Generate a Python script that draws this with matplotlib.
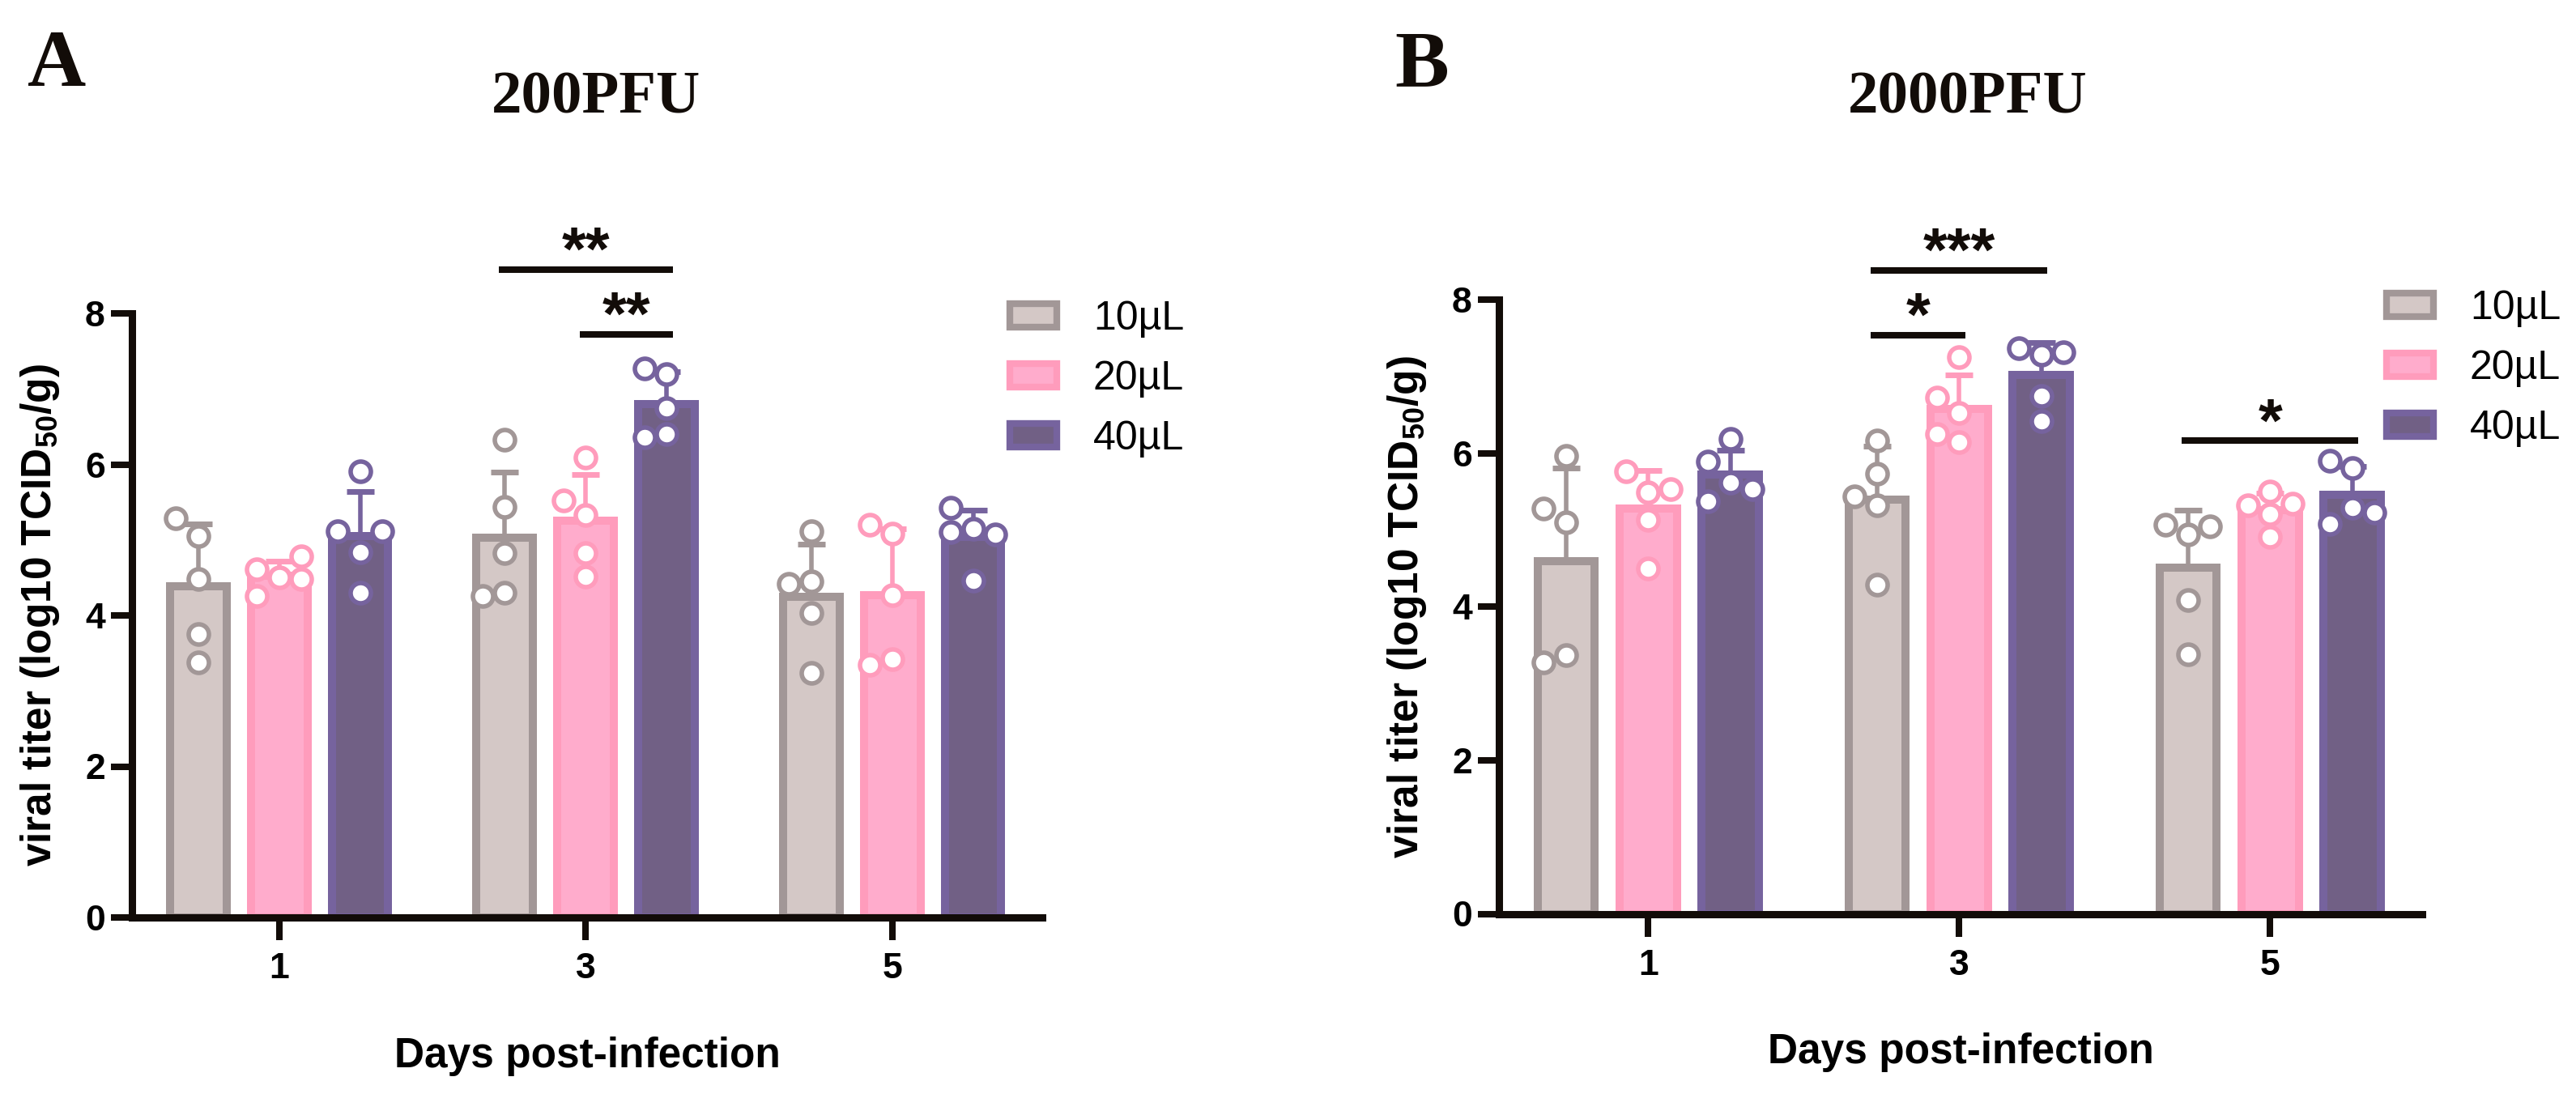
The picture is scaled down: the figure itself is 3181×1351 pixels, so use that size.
import numpy as np
import matplotlib
matplotlib.use('Agg')
import matplotlib.pyplot as plt
from matplotlib.patches import Patch

plt.rcParams['font.family'] = ['Liberation Sans', 'DejaVu Sans']
plt.rcParams['mathtext.fontset'] = 'custom'
plt.rcParams['mathtext.rm'] = 'Liberation Sans:bold'
plt.rcParams['mathtext.default'] = 'rm'

# ---------------- data ----------------
days = ['1', '3', '5']
volumes = ['10µL', '20µL', '40µL']
panel_titles = ['200PFU', '2000PFU']
panel_letters = ['A', 'B']

# Panel A (200 PFU) - individual titers (log10 TCID50/g), one list per day
a_10 = [[5.05, 5.29, 4.48, 3.75, 3.38], [6.33, 5.44, 4.83, 4.30, 4.26], [5.12, 4.03, 3.24, 4.45, 4.42]]
a_20 = [[4.50, 4.61, 4.78, 4.48, 4.26], [6.09, 4.83, 4.51, 5.33, 5.52], [5.08, 5.20, 4.27, 3.42, 3.35]]
a_40 = [[5.91, 4.84, 4.30, 5.11, 5.11], [7.20, 7.27, 6.74, 6.40, 6.36], [5.15, 5.10, 5.07, 4.46, 5.43]]

# Panel B (2000 PFU)
b_10 = [[5.96, 5.10, 5.28, 3.37, 3.27], [6.17, 5.73, 5.32, 4.29, 5.44], [4.94, 5.07, 5.05, 4.09, 3.38]]
b_20 = [[5.49, 5.13, 4.50, 5.76, 5.53], [7.25, 6.52, 6.72, 6.25, 6.14], [5.50, 5.21, 4.91, 5.32, 5.34]]
b_40 = [[6.19, 5.62, 5.37, 5.53, 5.89], [7.28, 7.37, 7.31, 6.74, 6.42], [5.81, 5.90, 5.29, 5.08, 5.23]]

# significance: (day index, volume i, volume j, bracket height, label)
sig_a = [(1, 0, 2, 8.58, '**'), (1, 1, 2, 7.72, '**')]
sig_b = [(1, 0, 2, 8.38, '***'), (1, 0, 1, 7.54, '*'), (2, 0, 2, 6.16, '*')]

yticks = [0, 2, 4, 6, 8]

# ---------------- style ----------------
fills = ['#D4C8C6', '#FFACCC', '#716085']
edges = ['#A29797', '#FF9CBC', '#76639E']
black = '#120c08'

W, H = 3181, 1351
fig = plt.figure(figsize=(W / 100, H / 100), dpi=100)

XL = (-0.48, 2.49)
OFF = 0.264
BW = 0.184

def px_rect(left, right, top, bottom):
    return [left / W, 1 - bottom / H, (right - left) / W, (bottom - top) / H]

axA = fig.add_axes(px_rect(163, 163 + 2.97 * 378.5, 387, 1133))
axB = fig.add_axes(px_rect(1851, 1851 + 2.97 * 384, 370, 1128.5))


def swarm_offsets(ax, x0, values, thresh_px=26.5, step_px=27.5):
    tr = ax.transData
    ppx = tr.transform((1, 0))[0] - tr.transform((0, 0))[0]
    placed, offs = [], []
    for v in values:
        y = tr.transform((x0, v))[1]
        dx = 0.0
        for k in [0, -1, 1, -2, 2, -3, 3]:
            dx = k * step_px
            if all(np.hypot(dx - pdx, y - py) >= thresh_px for pdx, py in placed):
                break
        placed.append((dx, y))
        offs.append(dx / ppx)
    return offs


def draw_panel(ax, groups, sigs, legend_anchor):
    ax.set_xlim(*XL)
    ax.set_ylim(0, 8)
    x = np.arange(len(days))
    for i, series in enumerate(groups):
        means = np.array([np.mean(d) for d in series])
        sds = np.array([np.std(d, ddof=1) for d in series])
        xi = x + (i - 1) * OFF
        ax.bar(xi, means, BW, color=fills[i], edgecolor=edges[i], linewidth=7.2, zorder=2)
        ax.errorbar(xi, means, yerr=[np.zeros_like(sds), sds], fmt='none', ecolor=edges[i],
                    elinewidth=4, capsize=12.5, capthick=5, zorder=3)
        for xc, vals in zip(xi, series):
            offs = swarm_offsets(ax, xc, vals)
            ax.plot(xc + np.array(offs), vals, 'o', ms=18, mfc='white', mec=edges[i], mew=4,
                    linestyle='none', zorder=4, clip_on=False)
    for d, vi, vj, yv, lab in sigs:
        x1 = d + (vi - 1) * OFF - 0.02
        x2 = d + (vj - 1) * OFF + 0.02
        ax.plot([x1, x2], [yv, yv], color=black, lw=5.8, solid_capstyle='butt', clip_on=False, zorder=5)
        ax.text((x1 + x2) / 2, yv, lab, ha='center', va='baseline', fontsize=55, fontweight='bold',
                color=black, clip_on=False)

    for s in ['top', 'right']:
        ax.spines[s].set_visible(False)
    for s in ['left', 'bottom']:
        ax.spines[s].set_linewidth(6.5)
        ax.spines[s].set_color(black)
    ax.set_xticks(x)
    ax.set_xticklabels(days)
    ax.set_yticks(yticks)
    ax.set_yticklabels([str(t) for t in yticks])
    ax.tick_params(axis='y', length=19, width=5.8, pad=5, labelsize=32, color=black)
    ax.tick_params(axis='x', length=20, width=5.8, pad=11, labelsize=32, color=black)
    for lab in ax.get_xticklabels() + ax.get_yticklabels():
        lab.set_fontweight('bold')
    ax.set_xlabel('Days post-infection', fontsize=37, fontweight='bold', labelpad=45)
    ax.set_ylabel('viral titer (log10 TCID$_{50}$/g)', fontsize=37, fontweight='bold', labelpad=21)

    handles = [Patch(facecolor=fills[i], edgecolor=edges[i], linewidth=6) for i in range(3)]
    ax.legend(handles, volumes, loc='upper left', bbox_to_anchor=legend_anchor,
              bbox_transform=fig.transFigure, frameon=False, fontsize=36, borderpad=0,
              borderaxespad=0, handlelength=1.16, handleheight=0.52, handletextpad=0.9,
              labelspacing=0.56)


draw_panel(axA, [a_10, a_20, a_40], sig_a, (1247 / W, 1 - 371 / H))
draw_panel(axB, [b_10, b_20, b_40], sig_b, (2947 / W, 1 - 358 / H))

serif = ['Liberation Serif', 'DejaVu Serif']
fig.text(34 / W, 1 - 106 / H, panel_letters[0], family=serif, fontweight='bold', fontsize=72,
         ha='left', va='baseline', color=black)
fig.text(736 / W, 1 - 140 / H, panel_titles[0], family=serif, fontweight='bold', fontsize=54,
         ha='center', va='baseline', color=black)
fig.text(1722 / W, 1 - 106 / H, panel_letters[1], family=serif, fontweight='bold', fontsize=72,
         ha='left', va='baseline', color=black)
fig.text(2430 / W, 1 - 140 / H, panel_titles[1], family=serif, fontweight='bold', fontsize=54,
         ha='center', va='baseline', color=black)

fig.savefig('out.png', dpi=100, facecolor='white')
